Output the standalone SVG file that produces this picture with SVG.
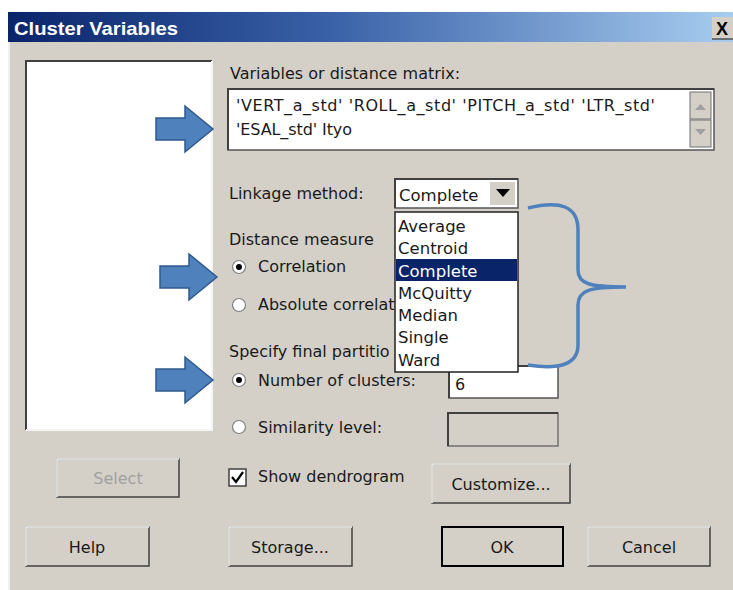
<svg xmlns="http://www.w3.org/2000/svg" width="733" height="590" viewBox="0 0 733 590">
  <defs>
    <linearGradient id="titleGrad" x1="0" y1="0" x2="1" y2="0">
      <stop offset="0" stop-color="#0a246a"/>
      <stop offset="0.45" stop-color="#3a62a8"/>
      <stop offset="1" stop-color="#a8cdf0"/>
    </linearGradient>
    <path id="blockArrow" d="M0,-11 L29,-11 L29,-23 L57,0 L29,23 L29,11 L0,11 Z"/>
  </defs>
  <style>
    .lbl { font-family: "DejaVu Sans", Verdana, sans-serif; font-size: 16px; fill: #1a1a1a; }
    .item { font-family: "DejaVu Sans", Verdana, sans-serif; font-size: 16.5px; fill: #1a1a1a; }
    .btn { fill: #d4d0c8; stroke: #404040; stroke-width: 1.5; }
    .btnHi { fill: none; stroke: #ffffff; stroke-width: 1.5; }
    .field { fill: #ffffff; stroke: #555555; stroke-width: 1.5; }
    .arrow { fill: #4f81bd; stroke: #2e5a8e; stroke-width: 1.5; }
    .radio { fill: #ffffff; stroke: #808080; stroke-width: 1.2; }
  </style>

  <!-- page background and dialog frame -->
  <rect x="0" y="0" width="733" height="590" fill="#ffffff"/>
  <rect x="8" y="12" width="725" height="578" fill="#d4d0c8"/>
  <line x1="9" y1="42" x2="9" y2="590" stroke="#f0f0f0" stroke-width="2"/>

  <!-- title bar -->
  <g id="titlebar">
    <rect x="8" y="12" width="725" height="30" fill="url(#titleGrad)"/>
    <text x="14" y="35" font-family="'Liberation Sans', Arial, sans-serif" font-size="19" font-weight="bold" fill="#ffffff" textLength="164" lengthAdjust="spacingAndGlyphs">Cluster Variables</text>
    <rect x="712" y="17" width="21" height="22" fill="#d4d0c8"/>
    <line x1="712" y1="39" x2="733" y2="39" stroke="#505050" stroke-width="1.5"/>
    <text x="716" y="35" font-family="'Liberation Sans', Arial, sans-serif" font-size="18" font-weight="bold" fill="#000000">X</text>
  </g>

  <!-- left variable list -->
  <g id="varlist">
    <rect x="26" y="61" width="186" height="369" fill="#ffffff"/>
    <path d="M26,430 L26,61 L212,61" fill="none" stroke="#404040" stroke-width="2"/>
    <path d="M212,61 L212,430 L26,430" fill="none" stroke="#f4f4f4" stroke-width="2"/>
  </g>

  <!-- variables field -->
  <g id="variables">
    <text class="lbl" x="230" y="79">Variables or distance matrix:</text>
    <rect class="field" x="228" y="89" width="486" height="61"/>
    <path d="M228,150 L228,89 L714,89" fill="none" stroke="#404040" stroke-width="2"/>
    <text class="lbl" x="236" y="111" textLength="419">'VERT_a_std' 'ROLL_a_std' 'PITCH_a_std' 'LTR_std'</text>
    <text class="lbl" x="236" y="135" textLength="116">'ESAL_std' Ityo</text>
    <rect x="690" y="92" width="21" height="27" fill="#d4d0c8" stroke="#707070" stroke-width="1"/>
    <rect x="690" y="120" width="21" height="27" fill="#d4d0c8" stroke="#707070" stroke-width="1"/>
    <path d="M695,110 L700.5,104 L706,110 Z" fill="#a0a0a0"/>
    <path d="M695,129 L700.5,135 L706,129 Z" fill="#a0a0a0"/>
  </g>

  <!-- linkage method -->
  <g id="linkage">
    <text class="lbl" x="229" y="199">Linkage method:</text>
    <rect class="field" x="395" y="179" width="123" height="29"/>
    <path d="M395,208 L395,179 L518,179" fill="none" stroke="#404040" stroke-width="2"/>
    <text class="item" x="399" y="201">Complete</text>
    <rect x="490" y="182" width="25" height="23" fill="#d4d0c8"/>
    <path d="M496,189 L503,197 L510,189 Z" fill="#000000"/>
  </g>

  <!-- distance measure -->
  <g id="distance">
    <text class="lbl" x="229" y="245">Distance measure</text>
    <circle class="radio" cx="239" cy="267" r="6.5"/>
    <circle cx="239" cy="267" r="3" fill="#000000"/>
    <text class="lbl" x="258" y="272">Correlation</text>
    <circle class="radio" cx="239" cy="305" r="6.5"/>
    <text class="lbl" x="258" y="310">Absolute correlat</text>
  </g>

  <!-- final partition -->
  <g id="partition">
    <text class="lbl" x="229" y="357">Specify final partitio</text>
    <circle class="radio" cx="239" cy="380" r="6.5"/>
    <circle cx="239" cy="380" r="3" fill="#000000"/>
    <text class="lbl" x="258" y="386">Number of clusters:</text>
    <rect class="field" x="449" y="366" width="109" height="32"/>
    <path d="M449,398 L449,366 L558,366" fill="none" stroke="#404040" stroke-width="2"/>
    <text class="lbl" x="455" y="390">6</text>
    <circle class="radio" cx="239" cy="427" r="6.5"/>
    <text class="lbl" x="258" y="433">Similarity level:</text>
    <rect x="448" y="413" width="110" height="33" fill="#d4d0c8" stroke="#707070" stroke-width="1.5"/>
    <path d="M448,446 L448,413 L558,413" fill="none" stroke="#404040" stroke-width="2"/>
  </g>

  <!-- linkage dropdown list (open) -->
  <g id="linkageList">
    <rect x="395" y="212" width="123" height="160" fill="#ffffff" stroke="#202020" stroke-width="1.5"/>
    <rect x="396" y="259" width="121" height="22" fill="#0a246a"/>
    <text class="item" x="398" y="232">Average</text>
    <text class="item" x="398" y="254">Centroid</text>
    <text class="item" x="398" y="277" style="fill:#ffffff">Complete</text>
    <text class="item" x="398" y="299">McQuitty</text>
    <text class="item" x="398" y="321">Median</text>
    <text class="item" x="398" y="343">Single</text>
    <text class="item" x="398" y="366">Ward</text>
  </g>

  <!-- show dendrogram -->
  <g id="dendrogram">
    <rect x="229" y="469" width="17" height="17" fill="#ffffff" stroke="#404040" stroke-width="1.5"/>
    <path d="M232,477 L236,482 L243,472" fill="none" stroke="#000000" stroke-width="2.2"/>
    <text class="lbl" x="258" y="482">Show dendrogram</text>
  </g>

  <!-- buttons -->
  <g id="selectBtn">
    <rect class="btn" x="57" y="459" width="122" height="38"/>
    <path d="M57,497 L57,459 L179,459" class="btnHi"/>
    <text x="118" y="484" text-anchor="middle" font-family="'DejaVu Sans', sans-serif" font-size="16" fill="#a0a0a0">Select</text>
  </g>
  <g id="customizeBtn">
    <rect class="btn" x="432" y="464" width="138" height="39"/>
    <path d="M432,503 L432,464 L570,464" class="btnHi"/>
    <text class="lbl" x="501" y="490" text-anchor="middle">Customize...</text>
  </g>
  <g id="helpBtn">
    <rect class="btn" x="26" y="527" width="123" height="39"/>
    <path d="M26,566 L26,527 L149,527" class="btnHi"/>
    <text class="lbl" x="87" y="553" text-anchor="middle">Help</text>
  </g>
  <g id="storageBtn">
    <rect class="btn" x="229" y="527" width="123" height="39"/>
    <path d="M229,566 L229,527 L352,527" class="btnHi"/>
    <text class="lbl" x="290" y="553" text-anchor="middle">Storage...</text>
  </g>
  <g id="okBtn">
    <rect x="442" y="527" width="121" height="39" fill="#d4d0c8" stroke="#000000" stroke-width="2"/>
    <text class="lbl" x="502" y="553" text-anchor="middle">OK</text>
  </g>
  <g id="cancelBtn">
    <rect class="btn" x="588" y="527" width="122" height="39"/>
    <path d="M588,566 L588,527 L710,527" class="btnHi"/>
    <text class="lbl" x="649" y="553" text-anchor="middle">Cancel</text>
  </g>

  <!-- callout arrows and brace -->
  <g id="callouts">
    <use href="#blockArrow" class="arrow" transform="translate(156,129)"/>
    <use href="#blockArrow" class="arrow" transform="translate(160,277)"/>
    <use href="#blockArrow" class="arrow" transform="translate(156,380)"/>
    <path d="M528,208 C560,200 578,206 578,230 L578,270 C578,284 590,287 626,287 C590,287 578,290 578,305 L578,345 C578,364 560,370 528,365" fill="none" stroke="#4f81bd" stroke-width="3.5"/>
  </g>
</svg>
